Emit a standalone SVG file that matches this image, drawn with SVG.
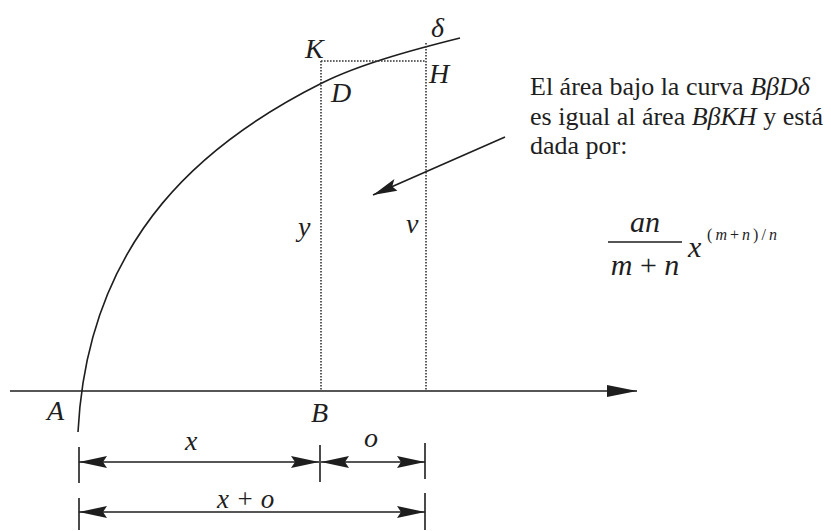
<svg xmlns="http://www.w3.org/2000/svg" width="831" height="531" viewBox="0 0 831 531">
<style>
.ln{fill:none;stroke:#1e1e1e;stroke-width:1.6}
.dot{fill:none;stroke:#333;stroke-width:1.6;stroke-dasharray:1.6 1.4}
.t{font-family:"Liberation Serif","Times New Roman",serif;fill:#1e1e1e}
.i{font-style:italic}
</style>
<defs>
<marker id="ah" viewBox="0 0 28 12" refX="28" refY="6" markerWidth="28" markerHeight="12" markerUnits="userSpaceOnUse" orient="auto-start-reverse">
<path d="M0,0 L28,6 L0,12 L4,6 Z" fill="#1e1e1e"/>
</marker>
<marker id="ah2" viewBox="0 0 30 12" refX="30" refY="6" markerWidth="30" markerHeight="12" markerUnits="userSpaceOnUse" orient="auto">
<path d="M0,0 L30,6 L0,12 Z" fill="#1e1e1e"/>
</marker>
<marker id="ah3" viewBox="0 0 26 12" refX="26" refY="6" markerWidth="26" markerHeight="12" markerUnits="userSpaceOnUse" orient="auto">
<path d="M2,0 L26,6 L0,12 L5,6 Z" fill="#1e1e1e"/>
</marker>
</defs>
<rect width="831" height="531" fill="#fff"/>

<g id="connectors">
<line id="axis" class="ln" x1="10" y1="391" x2="637" y2="391" marker-end="url(#ah2)"/>
<path id="curve" class="ln" d="M78,432 C88,232 212,138 322,83 C362,63 420,48 460,38"/>
<path id="dotted" class="dot" d="M321,61 V391 M426,43 V391 M321,61 H426"/>
<line id="pointer" class="ln" x1="505" y1="137" x2="373" y2="195" marker-end="url(#ah3)"/>
<path id="ticks" class="ln" d="M79,447 V483 M79,498 V530 M320,445 V482 M425,443 V479 M425,493 V530"/>
<line id="dim-x" class="ln" x1="79" y1="462" x2="319" y2="462" marker-start="url(#ah)" marker-end="url(#ah)"/>
<line id="dim-o" class="ln" x1="321" y1="462" x2="425" y2="462" marker-start="url(#ah)" marker-end="url(#ah)"/>
<line id="dim-xo" class="ln" x1="79" y1="512" x2="425" y2="512" marker-start="url(#ah)" marker-end="url(#ah)"/>
</g>

<g id="point-labels" class="t i" font-size="28">
<text id="K" x="305" y="58">K</text>
<text id="delta" x="431" y="37">δ</text>
<text id="D" x="331" y="102">D</text>
<text id="H" x="429" y="83">H</text>
<text id="y" x="298" y="236">y</text>
<text id="v" x="406" y="233">v</text>
<text id="A" x="47" y="420">A</text>
<text id="B" x="311" y="422">B</text>
<text id="xl" x="185" y="450">x</text>
<text id="ol" x="364" y="447">o</text>
<text id="xol" x="217" y="508" font-size="27">x + o</text>
</g>

<g id="note" class="t" font-size="26">
<text x="530" y="95">El área bajo la curva <tspan class="i">BβDδ</tspan></text>
<text x="530" y="124.5">es igual al área <tspan class="i">BβKH</tspan> y está</text>
<text x="530" y="154">dada por:</text>
</g>

<g id="formula" class="t i">
<text x="645" y="232" font-size="30" text-anchor="middle">an</text>
<line x1="608" y1="242" x2="682" y2="242" stroke="#1e1e1e" stroke-width="1.5"/>
<text x="645" y="275" font-size="30" text-anchor="middle">m <tspan font-style="normal">+</tspan> n</text>
<text x="688" y="257" font-size="30">x</text>
<text x="707" y="240" font-size="16" textLength="70" lengthAdjust="spacing"><tspan font-style="normal">(</tspan>m<tspan font-style="normal">+</tspan>n<tspan font-style="normal">)/</tspan>n</text>
</g>
</svg>
